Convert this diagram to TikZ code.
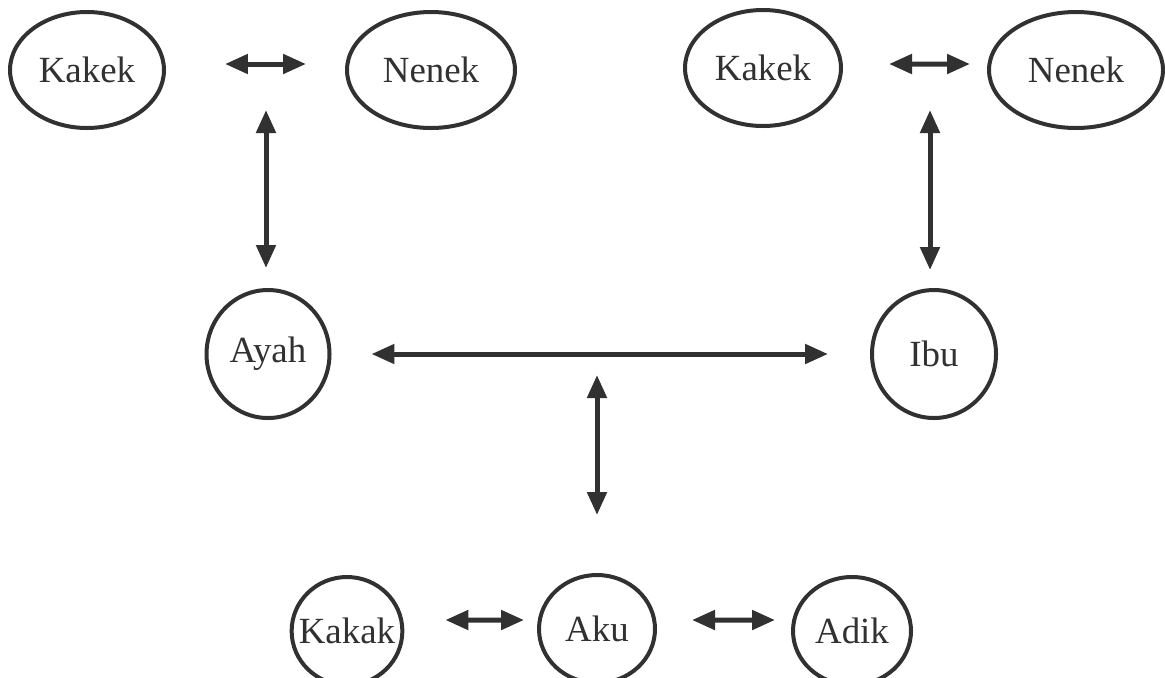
\documentclass[tikz,border=0pt]{standalone}
\usepackage{fontspec}
\setmainfont{Liberation Serif}
\usetikzlibrary{arrows.meta,shapes.geometric,positioning}

\newlength\pxu
\setlength\pxu{0.02cm}
\definecolor{inkgray}{HTML}{313131}

\begin{document}
\begin{tikzpicture}
[x=0.02cm,y=-0.02cm,
font=\fontsize{21}{25}\selectfont,
%
person/.style={shape=ellipse,draw=inkgray,line width=4\pxu,inner sep=0pt,text=inkgray},
kin/.style={person,minimum width=#1*0.02cm,minimum height=116\pxu},
kid/.style={person,minimum width=116\pxu,minimum height=108\pxu},
%
dedge/.style={draw=inkgray,line width=5\pxu,
  >={Triangle[length=0.46cm,width=0.38cm]},<->}]

\useasboundingbox (0,0) rectangle (1165,677);

\node (kakekA) [kin=154] at (87,70) {Kakek};
\node (nenekA) [kin=168] at (431,70) {Nenek};
\node (kakekB) [kin=156] at (763,68) {Kakek};
\node (nenekB) [kin=174] at (1076,70) {Nenek};
\node (ayah) [person,minimum width=123\pxu,minimum height=128\pxu] at (268,354) {Ayah};
\node (ibu) [person,minimum width=124\pxu,minimum height=128\pxu] at (934,354) {Ibu};
\node (kakak) [kid,minimum width=110\pxu,inner xsep=-9\pxu] at (347,631) {Kakak};
\node (aku) [kid] at (597,629) {Aku};
\node (adik) [kid,minimum width=118\pxu] at (852,631) {Adik};

\coordinate (topA) at (266,110);
\coordinate (topB) at (930,110);
\coordinate (mid) at (597,375);

\draw[dedge,shorten <=1.18cm,shorten >=0.78cm] ([yshift=0.12cm]kakekA.east) -- ([yshift=0.12cm]nenekA.west);
\draw[dedge,shorten <=0.92cm,shorten >=0.34cm] ([yshift=0.08cm]kakekB.east) -- ([yshift=0.12cm]nenekB.west);
\draw[dedge,shorten <=0.4cm] (ayah.north -| topA) -- (topA);
\draw[dedge,shorten <=0.36cm] (ibu.north -| topB) -- (topB);
\draw[dedge,shorten <=0.8cm,shorten >=0.84cm] (ayah) -- (ibu);
\draw[dedge,shorten <=1.16cm] (aku.north) -- (mid);
\draw[dedge,shorten <=0.82cm,shorten >=0.26cm] ([yshift=0.22cm]kakak.east) -- ([yshift=0.18cm]aku.west);
\draw[dedge,shorten <=0.7cm,shorten >=0.32cm] ([yshift=0.18cm]aku.east) -- ([yshift=0.22cm]adik.west);

\end{tikzpicture}
\end{document}
